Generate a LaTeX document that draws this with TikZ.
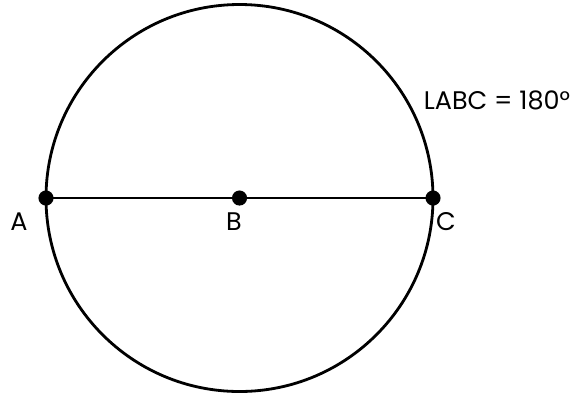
\documentclass[tikz,border=0pt]{standalone}
\usepackage{fontspec}
\setmainfont{Poppins}
\usetikzlibrary{positioning}
\tikzset{
  rim/.style={
    line width=1.6pt,
    color=black
  },
  diameter/.style={
    line width=1.6pt,
    color=black
  },
  point dot/.style={
    circle,
    fill=black,
    inner sep=0pt,
    minimum size=8.6pt
  },
  point label/.style={
    font=\fontsize{14.5pt}{17pt}\selectfont,
    inner sep=0pt
  }
}
\begin{document}
\begin{tikzpicture}[x=0.02cm, y=-0.02cm]
    % picture frame in pixels
    \useasboundingbox (0, 0) rectangle (580, 393);

    % the circle
    \draw[rim] (239.5, 198) circle[radius=193.5];

    % points on the diameter
    \node[point dot] (A) at (46, 198) {};
    \node[point dot] (B) at (239.5, 198) {};
    \node[point dot] (C) at (433, 198) {};
    \draw[diameter] (A.center) -- (C.center);

    % labels
    \node[point label] (labA) at (19, 222) {A};
    \node[point label] (labB) at (234, 222) {B};
    \node[point label] (labC) at (446, 222) {C};
    \node[point label] (angle) at (497, 100) {LABC = 180°};
  \end{tikzpicture}
\end{document}
